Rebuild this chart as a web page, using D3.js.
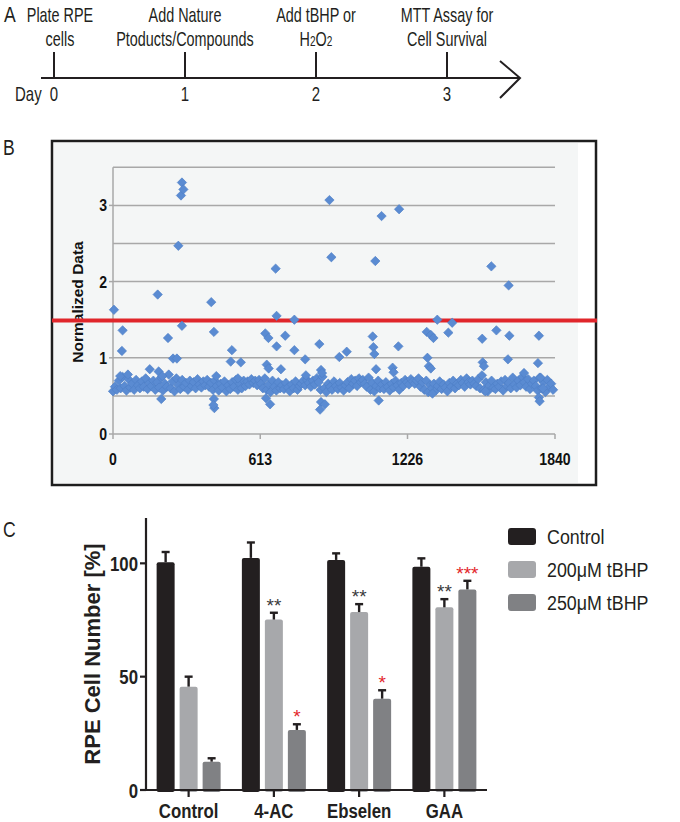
<!DOCTYPE html>
<html>
<head>
<meta charset="utf-8">
<script src="https://cdn.jsdelivr.net/npm/d3@7"></script>
<style>
  html, body { margin: 0; padding: 0; background: #fff; }
  svg { display: block; }
  text { font-family: "Liberation Sans", Arial, sans-serif; }
</style>
</head>
<body>
<div id="chart"></div>
<script>
// ---------------- DATA ----------------
// Panel A: timeline
const timelineDays = [0, 1, 2, 3];
const timelineLine1 = ["Plate RPE", "Add Nature", "Add tBHP or", "MTT Assay for"];
const timelineLine2 = ["cells", "Ptoducts/Compounds", "H2O2", "Cell Survival"];

// Panel B: screening scatter (well number vs normalized data)
const wellStep = 8; // band points listed every 8 wells
const bandValues = [
  0.56,0.62,0.58,0.70,0.60,0.75,0.63,0.57,0.72,0.61,
  0.66,0.58,0.71,0.64,0.60,0.69,0.62,0.73,0.59,0.67,
  0.63,0.70,0.58,0.68,0.61,0.74,0.57,0.66,0.62,0.78,
  0.60,0.69,0.56,0.73,0.64,0.59,0.71,0.62,0.67,0.58,
  0.70,0.63,0.68,0.60,0.72,0.65,0.61,0.69,0.64,0.71,
  0.62,0.67,0.58,0.70,0.63,0.57,0.66,0.61,0.69,0.56,
  0.64,0.59,0.68,0.62,0.71,0.58,0.66,0.60,0.70,0.63,
  0.69,0.65,0.72,0.67,0.70,0.64,0.71,0.66,0.60,0.73,
  0.58,0.65,0.55,0.70,0.62,0.57,0.68,0.60,0.64,0.59,
  0.67,0.61,0.56,0.65,0.60,0.69,0.58,0.63,0.66,0.70,
  0.64,0.71,0.67,0.62,0.70,0.65,0.73,0.68,0.58,0.75,
  0.60,0.55,0.66,0.62,0.58,0.69,0.63,0.59,0.67,0.61,
  0.57,0.64,0.68,0.60,0.72,0.66,0.70,0.63,0.73,0.68,
  0.71,0.66,0.62,0.74,0.58,0.67,0.56,0.63,0.70,0.60,
  0.65,0.59,0.68,0.62,0.57,0.66,0.61,0.70,0.64,0.58,
  0.67,0.63,0.71,0.68,0.65,0.72,0.69,0.66,0.70,0.73,
  0.62,0.68,0.58,0.70,0.55,0.64,0.60,0.66,0.57,0.63,
  0.69,0.59,0.65,0.61,0.56,0.67,0.62,0.70,0.60,0.66,
  0.64,0.71,0.67,0.62,0.73,0.68,0.65,0.70,0.66,0.63,
  0.72,0.60,0.77,0.58,0.68,0.56,0.64,0.70,0.61,0.59,
  0.66,0.62,0.69,0.57,0.71,0.63,0.67,0.60,0.74,0.65,
  0.61,0.70,0.64,0.75,0.68,0.62,0.72,0.59,0.66,0.70,
  0.63,0.57,0.74,0.60,0.68,0.55,0.71,0.62,0.66,0.58
];
const extraWells = [
  4,40,37,30,62,153,186,190,205,201,229,250,266,272,283,287,293,287,
  409,420,420,422,418,430,495,490,532,520,
  634,647,640,648,637,654,677,681,681,699,717,755,755,800,803,859,866,870,866,862,882,
  901,909,942,973,1081,1084,1088,1095,1106,1092,1118,1164,1168,1188,1191,
  1306,1323,1334,1309,1315,1323,1330,1350,1396,1412,1537,1539,1544,1550,1575,1596,
  1644,1647,1650,1711,1769,1773,1773,1776,1780,1790
];
const extraValues = [
  1.63,1.36,1.09,0.76,0.78,0.85,1.83,0.82,0.76,0.46,1.26,0.99,0.99,2.47,3.13,3.30,3.21,1.42,
  1.73,1.34,0.46,0.34,0.38,0.76,1.10,0.95,0.94,0.73,
  1.32,1.26,0.91,0.86,0.47,0.39,2.17,1.55,1.15,0.85,1.29,1.50,1.10,0.98,0.77,1.18,0.84,0.80,0.42,0.32,0.39,
  3.07,2.32,1.01,1.08,1.28,1.14,1.05,0.85,0.44,2.27,2.86,0.87,0.81,1.15,2.95,
  1.34,1.30,1.26,1.00,0.89,0.86,0.53,1.50,1.33,1.46,1.25,0.94,0.89,0.56,2.20,1.36,
  0.98,1.95,1.29,0.80,0.93,1.29,0.48,0.43,0.74,0.60
];
const thresholdValue = [1.49];
const bGridDrawn = [0.5, 1, 2, 2.5, 3, 3.5];
const bYTickLabels = [0, 1, 2, 3];
const bXTickLabels = [0, 613, 1226, 1840];

// Panel C: grouped bars
const groups = ["Control", "4-AC", "Ebselen", "GAA"];
const seriesNames = ["Control", "200\u03bcM tBHP", "250\u03bcM tBHP"];
const meanControl = [100.5, 102.4, 101.5, 98.5];
const mean200 = [45.6, 75.2, 78.5, 80.6];
const mean250 = [12.5, 26.5, 40.3, 88.5];
const semControl = [4.5, 6.8, 2.9, 3.7];
const sem200 = [4.4, 3.0, 3.5, 3.6];
const sem250 = [1.5, 2.5, 3.7, 3.8];
const stars200 = ["", "**", "**", "**"];
const stars250 = ["", "*", "*", "***"];
const cYTicks = [0, 50, 100];

// ---------------- DRAW ----------------
const W = 680, H = 822;
const svg = d3.select("#chart").append("svg").attr("width", W).attr("height", H);
const ink = "#231f20";

function txt(parent, x, y, s, o = {}) {
  const t = parent.append("text")
    .attr("transform", `translate(${x},${y})${o.rot ? " rotate(" + o.rot + ")" : ""} scale(${o.sx || 1},1)`)
    .attr("text-anchor", o.anchor || "start")
    .attr("font-size", o.size || 16)
    .attr("font-weight", o.weight || "normal")
    .attr("fill", o.fill || ink)
    .text(s);
  return t;
}

// ===== Panel A =====
const gA = svg.append("g");
const dayX = d3.scaleLinear().domain([0, 3]).range([54, 447]);
const aAxisY = 78;
txt(gA, 4, 22, "A", { size: 22, sx: 0.8 });
gA.append("line").attr("x1", 41).attr("x2", 520).attr("y1", aAxisY).attr("y2", aAxisY)
  .attr("stroke", ink).attr("stroke-width", 2);
gA.append("path").attr("d", `M500,61 L520,${aAxisY} L500,98`).attr("fill", "none")
  .attr("stroke", ink).attr("stroke-width", 2);
gA.selectAll("line.tick").data(timelineDays).join("line")
  .attr("class", "tick")
  .attr("x1", d => dayX(d)).attr("x2", d => dayX(d))
  .attr("y1", 52).attr("y2", aAxisY)
  .attr("stroke", ink).attr("stroke-width", 2);
txt(gA, 15, 101, "Day", { size: 20, sx: 0.75 });
timelineDays.forEach((d, i) => {
  txt(gA, dayX(d), 101, String(d), { size: 20, sx: 0.75, anchor: "middle" });
  const cx = Math.max(dayX(d), 60);
  txt(gA, cx, 22, timelineLine1[i], { size: 20, sx: 0.72, anchor: "middle" });
  const t2 = txt(gA, cx, 46, "", { size: 20, sx: 0.72, anchor: "middle" });
  if (timelineLine2[i] === "H2O2") {
    t2.append("tspan").text("H");
    t2.append("tspan").attr("font-size", 14).text("2");
    t2.append("tspan").text("O");
    t2.append("tspan").attr("font-size", 14).text("2");
  } else {
    t2.text(timelineLine2[i]);
  }
});

// ===== Panel B =====
const gB = svg.append("g");
txt(gB, 3, 155, "B", { size: 22, sx: 0.8 });
gB.append("rect").attr("x", 52).attr("y", 141).attr("width", 544).attr("height", 344)
  .attr("fill", "#ffffff").attr("stroke", "#1e1e1e").attr("stroke-width", 2.5);
gB.append("rect").attr("x", 54).attr("y", 143).attr("width", 524).attr("height", 340)
  .attr("fill", "#f4f6f6");

const wellX = d3.scaleLinear().domain([0, 1840]).range([113, 555]);
const normY = d3.scaleLinear().domain([0, 3.5]).range([434, 167.3]);

gB.selectAll("line.grid").data(bGridDrawn).join("line")
  .attr("class", "grid")
  .attr("x1", wellX(0)).attr("x2", wellX(1840))
  .attr("y1", d => normY(d)).attr("y2", d => normY(d))
  .attr("stroke", "#a8a8a8").attr("stroke-width", 1.5);
gB.append("line").attr("x1", wellX(0)).attr("x2", wellX(0))
  .attr("y1", normY(3.5)).attr("y2", normY(0)).attr("stroke", "#a8a8a8").attr("stroke-width", 1.5);
gB.selectAll("line.yt").data(bYTickLabels).join("line").attr("class", "yt")
  .attr("x1", wellX(0) - 4).attr("x2", wellX(0))
  .attr("y1", d => normY(d)).attr("y2", d => normY(d))
  .attr("stroke", "#a8a8a8").attr("stroke-width", 1.5);
gB.append("line").attr("x1", wellX(0)).attr("x2", wellX(1840))
  .attr("y1", normY(0)).attr("y2", normY(0)).attr("stroke", "#a8a8a8").attr("stroke-width", 1.5);
gB.selectAll("line.xt").data(bXTickLabels).join("line").attr("class", "xt")
  .attr("x1", d => wellX(d)).attr("x2", d => wellX(d))
  .attr("y1", normY(0)).attr("y2", normY(0) + 5)
  .attr("stroke", "#a8a8a8").attr("stroke-width", 1.5);
bYTickLabels.forEach(v => txt(gB, 107, normY(v) + 6, String(v), { size: 16, weight: "bold", sx: 0.88, anchor: "end", fill: "#111" }));
bXTickLabels.forEach(v => txt(gB, wellX(v), 465, String(v), { size: 16, weight: "bold", sx: 0.88, anchor: "middle", fill: "#111" }));
txt(gB, 83, 302, "Normalized Data", { size: 15.5, weight: "bold", rot: -90, anchor: "middle", fill: "#111" });

gB.selectAll("line.thr").data(thresholdValue).join("line").attr("class", "thr")
  .attr("x1", 52).attr("x2", 597)
  .attr("y1", d => normY(d)).attr("y2", d => normY(d))
  .attr("stroke", "#e0262b").attr("stroke-width", 4);

const pts = bandValues.map((v, i) => ({ w: i * wellStep, v }))
  .concat(extraWells.map((w, i) => ({ w, v: extraValues[i] })));
const diamond = d3.symbol().type(d3.symbolSquare).size(44);
gB.selectAll("path.pt").data(pts).join("path").attr("class", "pt")
  .attr("d", diamond)
  .attr("transform", d => `translate(${wellX(d.w)},${normY(d.v)}) rotate(45)`)
  .attr("fill", "#5a8bd2")
  .attr("stroke", "#4d7fc6").attr("stroke-width", 0.6);

// ===== Panel C =====
const gC = svg.append("g");
txt(gC, 3, 537, "C", { size: 22, sx: 0.8 });
const x0 = d3.scaleBand().domain(groups).range([146, 487]).padding(0);
const x1 = d3.scaleBand().domain(seriesNames).range([-32, 32]).paddingInner(0.217).paddingOuter(0);
const yC = d3.scaleLinear().domain([0, 120]).range([790, 518]);
const colors = ["#231f20", "#a7a8ab", "#808184"];
const means = [meanControl, mean200, mean250];
const sems = [semControl, sem200, sem250];
const starsBy = [["", "", "", ""], stars200, stars250];

const barData = [];
groups.forEach((g, gi) => seriesNames.forEach((s, si) => {
  barData.push({ g, s, si, v: means[si][gi], e: sems[si][gi], star: starsBy[si][gi] });
}));
const cx = d => x0(d.g) + x0.bandwidth() / 2 + x1(d.s);

gC.selectAll("rect.bar").data(barData).join("rect").attr("class", "bar")
  .attr("x", d => cx(d)).attr("width", x1.bandwidth())
  .attr("y", d => yC(d.v)).attr("height", d => yC(0) - yC(d.v) + 2)
  .attr("rx", 2).attr("fill", d => colors[d.si]);
gC.selectAll("line.err").data(barData).join("line").attr("class", "err")
  .attr("x1", d => cx(d) + x1.bandwidth() / 2).attr("x2", d => cx(d) + x1.bandwidth() / 2)
  .attr("y1", d => yC(d.v)).attr("y2", d => yC(d.v + d.e))
  .attr("stroke", ink).attr("stroke-width", 2.4);
gC.selectAll("line.cap").data(barData).join("line").attr("class", "cap")
  .attr("x1", d => cx(d) + x1.bandwidth() / 2 - 4).attr("x2", d => cx(d) + x1.bandwidth() / 2 + 4)
  .attr("y1", d => yC(d.v + d.e)).attr("y2", d => yC(d.v + d.e))
  .attr("stroke", ink).attr("stroke-width", 2.4);
barData.filter(d => d.star).forEach(d => {
  txt(gC, cx(d) + x1.bandwidth() / 2, yC(d.v + d.e) - 1, d.star,
    { size: 19, anchor: "middle", fill: d.si === 2 ? "#e3262b" : "#3a3a3c" });
});

gC.append("line").attr("x1", 146).attr("x2", 146).attr("y1", yC(120)).attr("y2", yC(0) + 1)
  .attr("stroke", ink).attr("stroke-width", 2.2);
gC.append("line").attr("x1", 140).attr("x2", 487).attr("y1", yC(0)).attr("y2", yC(0))
  .attr("stroke", ink).attr("stroke-width", 2.2);
gC.selectAll("line.cyt").data(cYTicks).join("line").attr("class", "cyt")
  .attr("x1", 140).attr("x2", 146).attr("y1", d => yC(d)).attr("y2", d => yC(d))
  .attr("stroke", ink).attr("stroke-width", 2.2);
gC.selectAll("line.cxt").data(groups).join("line").attr("class", "cxt")
  .attr("x1", d => x0(d) + x0.bandwidth() / 2).attr("x2", d => x0(d) + x0.bandwidth() / 2)
  .attr("y1", yC(0)).attr("y2", yC(0) + 7)
  .attr("stroke", ink).attr("stroke-width", 2.2);
cYTicks.forEach(v => txt(gC, 138, yC(v) + 7.5, String(v), { size: 21, weight: "bold", sx: 0.8, anchor: "end" }));
groups.forEach(g => txt(gC, x0(g) + x0.bandwidth() / 2, 818, g, { size: 21, weight: "bold", sx: 0.8, anchor: "middle" }));
txt(gC, 100, 654, "RPE Cell Number [%]", { size: 22, weight: "bold", rot: -90, anchor: "middle" });

const lg = gC.append("g");
seriesNames.forEach((s, i) => {
  const ly = 528 + i * 33;
  lg.append("rect").attr("x", 508).attr("y", ly).attr("width", 28).attr("height", 17)
    .attr("rx", 3).attr("fill", colors[i]);
  txt(lg, 547, ly + 16, s, { size: 21, sx: 0.85 });
});
</script>
</body>
</html>
